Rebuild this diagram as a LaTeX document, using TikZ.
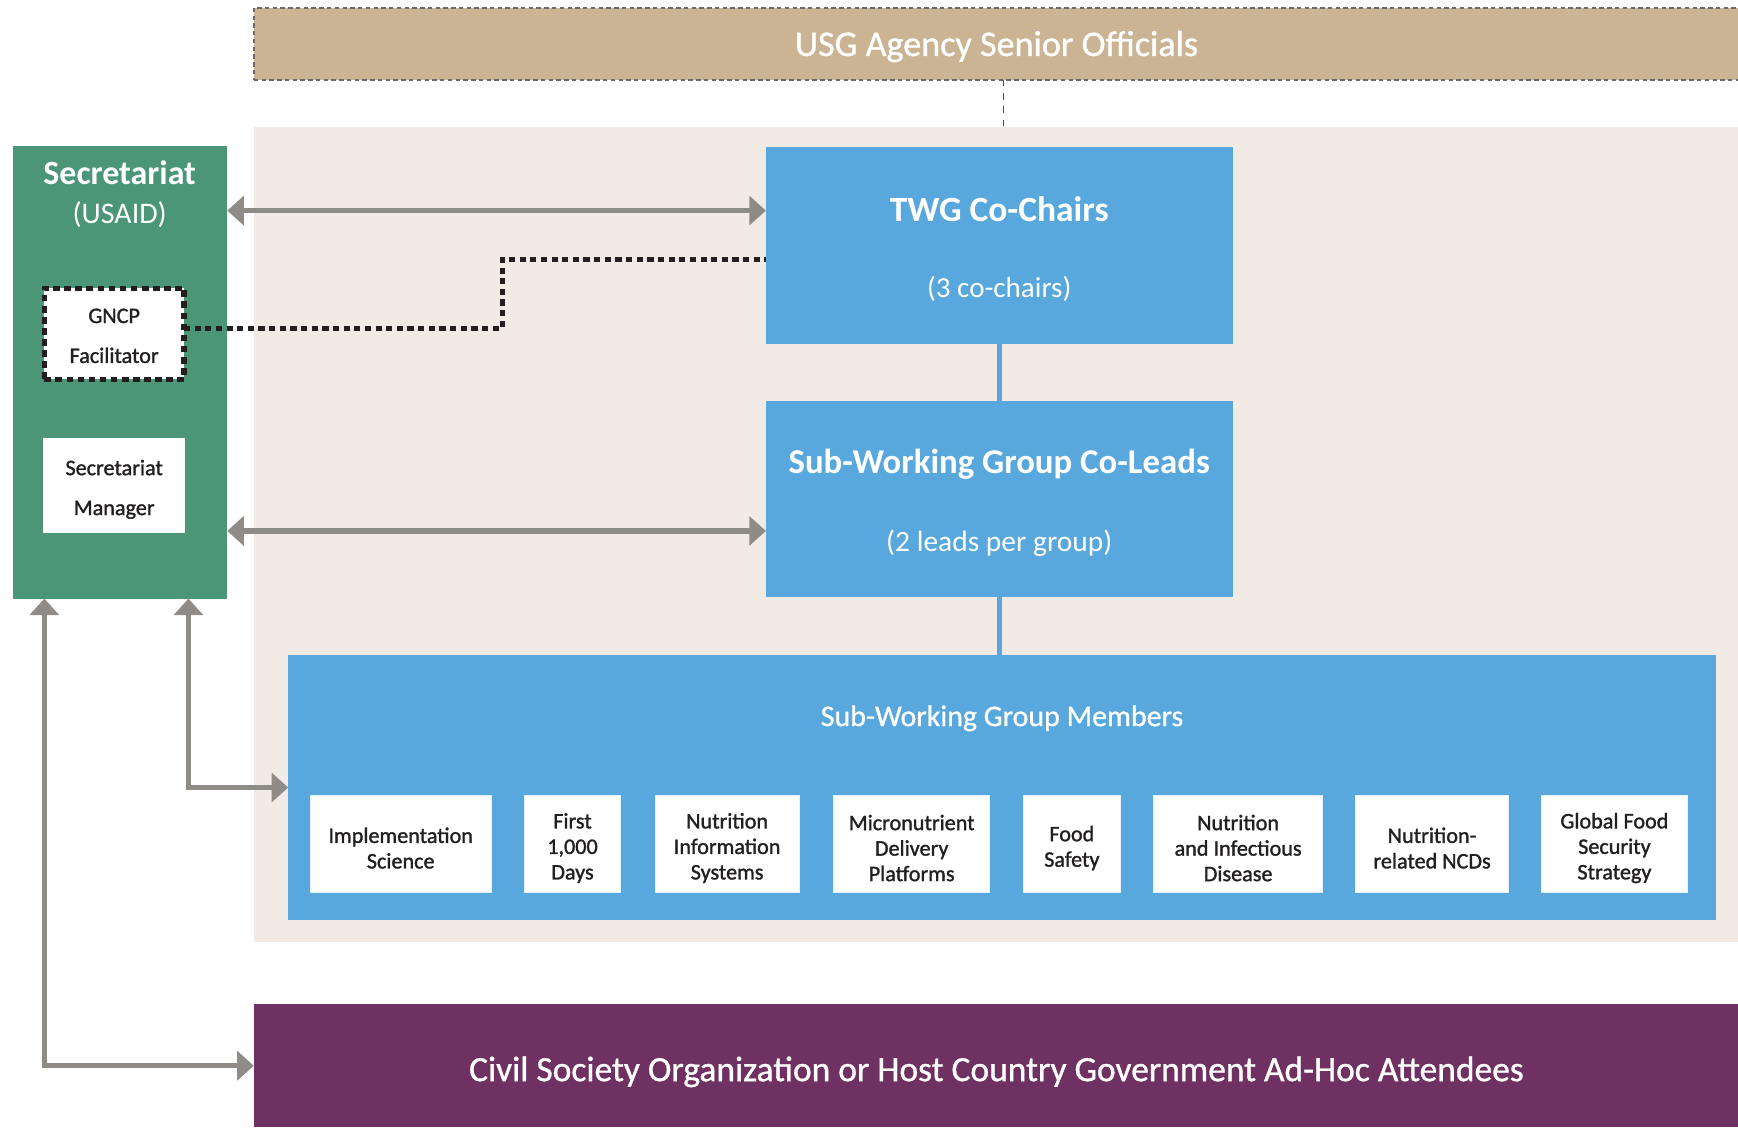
\documentclass[tikz,border=0pt]{standalone}
\usepackage{fontspec}
\setmainfont{Carlito}
\newfontfamily\medfont[FakeBold=0.9]{Carlito}
\newfontfamily\semifont[FakeBold=1.3]{Carlito}
\usetikzlibrary{arrows.meta,calc}
\definecolor{tblue}{HTML}{58A8DD}
\definecolor{tgreen}{HTML}{4A9677}
\definecolor{ttan}{HTML}{CBB493}
\definecolor{tbeige}{HTML}{F2EAE4}
\definecolor{tpurple}{HTML}{6E3162}
\definecolor{tgray}{HTML}{8F8C87}
\definecolor{tdark}{HTML}{231F20}
\definecolor{tdash}{HTML}{6D6A66}
\tikzset{
  panel/.style={rectangle, inner sep=0pt, outer sep=0pt, draw=none},
  wtext/.style={text=white, inner sep=0pt, align=center},
  dtext/.style={text=tdark, inner sep=0pt, align=center},
  garrow/.style={draw=tgray, line width=2.4pt,
    {Triangle[length=7.5pt,width=13pt]}-{Triangle[length=7.5pt,width=13pt]}},
  dotline/.style={draw=tdark, line width=2.3pt, dash pattern=on 2.8pt off 2pt},
  bline/.style={draw=tblue, line width=2.2pt},
  subbox/.style={panel, fill=white, draw=white!85!tblue, line width=0.4pt,
    minimum height=43.5pt},
  subtext/.style={dtext, font=\semifont\fontsize{10}{11.5}\selectfont},
}
\begin{document}
\begin{tikzpicture}[x=0.5pt,y=-0.5pt]
\useasboundingbox (0,0) rectangle (1568,1017);
\clip (0,0) rectangle (1568,1017);
\fill[white] (0,0) rectangle (1568,1017);

% background panel
\node[panel, fill=tbeige, minimum width=685.5pt, minimum height=367.5pt] (bgpanel) at (914.5,482.5) {};

% USG
\node[panel, fill=ttan, draw=tdash, line width=0.9pt, dash pattern=on 2pt off 1.5pt,
  minimum width=675pt, minimum height=32.5pt] (usg) at (904,39.5) {};
\node[wtext, font=\medfont\fontsize{16.3}{19}\selectfont] (usgt) at (899,42) {USG Agency Senior Officials};
\coordinate (usgc) at (905,0);
\draw[draw=tdark!80, line width=0.5pt, dash pattern=on 3pt off 3pt] (usg.south -| usgc) -- (bgpanel.north -| usgc);

% Secretariat
\node[panel, fill=tgreen, minimum width=96.5pt, minimum height=204pt] (sec) at (108.5,336) {};
\node[wtext, font=\bfseries\fontsize{15.3}{18}\selectfont] (sect) at (108,156) {Secretariat};
\node[wtext, font=\fontsize{13.5}{16}\selectfont] (secu) at (108,194) {(USAID)};
\node[panel, fill=white, draw=tdark, line width=2.3pt, dash pattern=on 3pt off 2pt,
  minimum width=63pt, minimum height=41pt] (gncp) at (103,301) {};
\node[dtext, font=\semifont\fontsize{10}{18}\selectfont] (gncpt) at (103,303) {GNCP\\Facilitator};
\node[panel, fill=white, minimum width=64pt, minimum height=43pt] (mgr) at (103,438) {};
\node[dtext, font=\semifont\fontsize{10}{18}\selectfont] (mgrt) at (103,441.5) {Secretariat\\Manager};

% TWG and SWG
\node[panel, fill=tblue, minimum width=210.5pt, minimum height=88.5pt] (twg) at (901.5,221.5) {};
\node[wtext, font=\bfseries\fontsize{16}{19}\selectfont] (twgt) at (901.5,188.5) {TWG Co-Chairs};
\node[wtext, font=\fontsize{13.1}{15}\selectfont] (twgs) at (901.5,261) {(3 co-chairs)};
\node[panel, fill=tblue, minimum width=210.5pt, minimum height=88.5pt] (swg) at (901.5,450.5) {};
\node[wtext, font=\bfseries\fontsize{15.7}{18}\selectfont] (swgt) at (901.5,419) {Sub-Working Group Co-Leads};
\node[wtext, font=\fontsize{13.3}{15}\selectfont] (swgs) at (901.5,490) {(2 leads per group)};

% Members
\node[panel, fill=tblue, minimum width=644pt, minimum height=119.5pt] (mem) at (904,710.5) {};
\node[wtext, font=\medfont\fontsize{13.5}{16}\selectfont] (memt) at (904,648) {Sub-Working Group Members};

\node[subbox, minimum width=81.5pt] (s1) at (361.5,761.5) {};
\node[subbox, minimum width=43.5pt] (s2) at (516.5,761.5) {};
\node[subbox, minimum width=65pt] (s3) at (656,761.5) {};
\node[subbox, minimum width=70.5pt] (s4) at (822.5,761.5) {};
\node[subbox, minimum width=44pt] (s5) at (967,761.5) {};
\node[subbox, minimum width=76pt] (s6) at (1117,761.5) {};
\node[subbox, minimum width=69pt] (s7) at (1292,761.5) {};
\node[subbox, minimum width=65.5pt] (s8) at (1456.5,761.5) {};
\node[subtext] (s1t) at ([yshift=-1.8pt]s1.center) {Implementation\\Science};
\node[subtext] (s2t) at ([yshift=-1.8pt]s2.center) {First\\1,000\\Days};
\node[subtext] (s3t) at ([yshift=-1.8pt]s3.center) {Nutrition\\Information\\Systems};
\node[subtext] (s4t) at ([yshift=-1.8pt]s4.center) {Micronutrient\\Delivery\\Platforms};
\node[subtext] (s5t) at ([yshift=-1.8pt]s5.center) {Food\\Safety};
\node[subtext] (s6t) at ([yshift=-1.8pt]s6.center) {Nutrition\\and Infectious\\Disease};
\node[subtext] (s7t) at ([yshift=-1.8pt]s7.center) {Nutrition-\\related NCDs};
\node[subtext] (s8t) at ([yshift=-1.8pt]s8.center) {Global Food\\Security\\Strategy};

% Civil society
\node[panel, fill=tpurple, minimum width=685.5pt, minimum height=55.5pt] (csa) at (914.5,961.5) {};
\node[wtext, font=\medfont\fontsize{16}{19}\selectfont] (csat) at (899,967) {Civil Society Organization or Host Country Government Ad-Hoc Attendees};

% connectors
\draw[bline] (twg.south) -- (swg.north);
\draw[bline] (swg.south) -- (swg.south |- mem.north);

\coordinate (h1) at (0,190);
\coordinate (h2) at (0,479);
\draw[garrow] (sec.east |- h1) -- (twg.west |- h1);
\draw[garrow] (sec.east |- h2) -- (swg.west |- h2);

\coordinate (dx) at (453,234);
\draw[dotline] ([yshift=2.5pt]gncp.east) -| (dx) |- (twg.west |- dx);

\coordinate (v1) at (170,0);
\coordinate (v2) at (40,0);
\draw[garrow] (sec.south -| v1) |- (mem.west);
\draw[garrow] (sec.south -| v2) |- (csa.west);
\end{tikzpicture}
\end{document}
